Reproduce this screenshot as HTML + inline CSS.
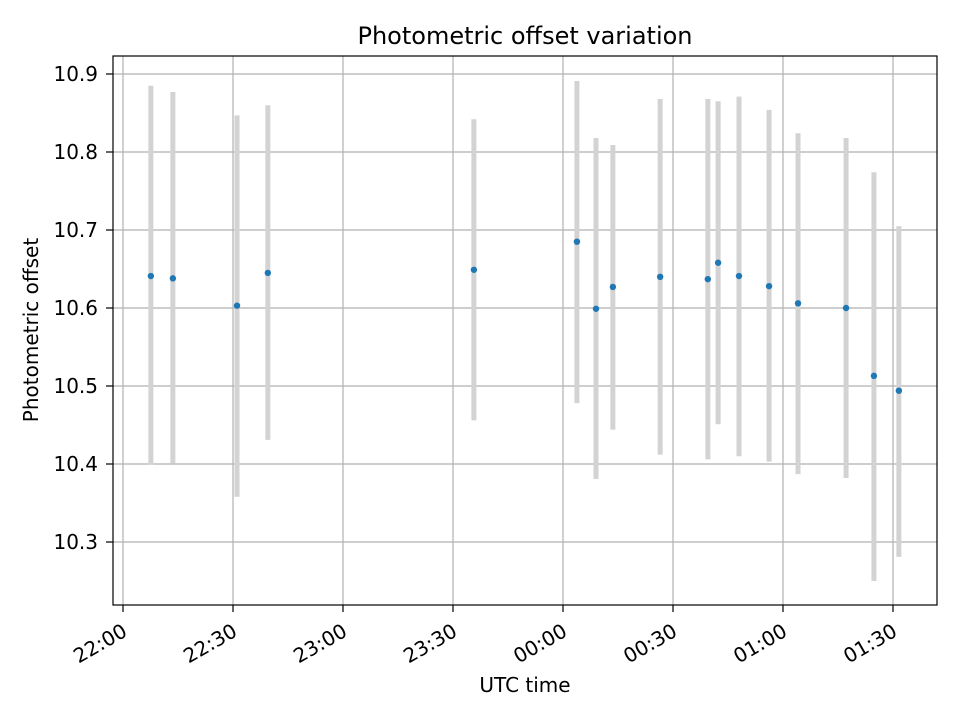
<!DOCTYPE html>
<html><head><meta charset="utf-8"><style>
body{margin:0;background:#fff;}
svg text{font-family:"DejaVu Sans","Liberation Sans",sans-serif;fill:#000;}
</style></head><body>
<svg id="chart" width="960" height="720" xmlns="http://www.w3.org/2000/svg">
<rect width="960" height="720" fill="#fff"/>
<g id="grid"></g>
<g id="bars"></g>
<g id="points"></g>
<rect x="113" y="56" width="824" height="549" fill="none" stroke="#000" stroke-width="1.2"/>
<g id="ticks"></g>
<text x="525" y="44" text-anchor="middle" font-size="24">Photometric offset variation</text>
<text x="525" y="692" text-anchor="middle" font-size="20">UTC time</text>
<text transform="translate(38,330) rotate(-90)" text-anchor="middle" font-size="20">Photometric offset</text>
</svg>
<script>
// minutes after 22:00 UTC
const times = [7.6,13.6,31.1,39.5,95.7,123.8,129,133.6,146.5,159.5,162.3,168,176.2,184.1,197.2,204.8,211.6];
const offsets = [10.641,10.638,10.603,10.645,10.649,10.685,10.599,10.627,10.640,10.637,10.658,10.641,10.628,10.606,10.600,10.513,10.494];
const errLow = [10.399,10.401,10.358,10.431,10.456,10.478,10.381,10.444,10.412,10.406,10.451,10.410,10.403,10.387,10.382,10.250,10.281];
const errHigh = [10.885,10.877,10.847,10.860,10.842,10.891,10.818,10.809,10.868,10.868,10.865,10.871,10.854,10.824,10.818,10.774,10.705];
const xTickMinutes = [0,30,60,90,120,150,180,210];
const xTickLabels = ["22:00","22:30","23:00","23:30","00:00","00:30","01:00","01:30"];
const yTicks = [10.3,10.4,10.5,10.6,10.7,10.8,10.9];

const NS="http://www.w3.org/2000/svg";
const L=113,R=937,T=56,B=605;
function xs(m){return 123+m*(110/30);}
function ys(v){return 542-(v-10.3)*780;}
function mk(tag,attrs,parent){const e=document.createElementNS(NS,tag);for(const k in attrs)e.setAttribute(k,attrs[k]);parent.appendChild(e);return e;}
const grid=document.getElementById('grid'),ticks=document.getElementById('ticks'),bars=document.getElementById('bars'),pts=document.getElementById('points');
xTickMinutes.forEach((m,i)=>{
  const x=xs(m);
  const g=mk('line',{x1:x,x2:x,y1:T,y2:B,stroke:'#b0b0b0','stroke-width':1.2},grid);
  
  
  const t=mk('line',{x1:x,x2:x,y1:B,y2:B+7,stroke:'#000','stroke-width':1.2},ticks);
  
  
  const tx=mk('text',{transform:`translate(${x-2},${B+17}) rotate(-30) translate(0,15)`,'text-anchor':'end','font-size':20},ticks);
  tx.textContent=xTickLabels[i];
  
  
});
yTicks.forEach(v=>{
  const y=ys(v);
  const g=mk('line',{x1:L,x2:R,y1:y,y2:y,stroke:'#b0b0b0','stroke-width':1.2},grid);
  
  
  const t=mk('line',{x1:L-7,x2:L,y1:y,y2:y,stroke:'#000','stroke-width':1.2},ticks);
  
  
  const tx=mk('text',{x:L-15,y:y+7,'text-anchor':'end','font-size':20},ticks);
  tx.textContent=v.toFixed(1);
  
  
});
times.forEach((m,i)=>{
  const x=xs(m);
  const b=mk('line',{x1:x,x2:x,y1:ys(errHigh[i]),y2:ys(errLow[i]),stroke:'#d3d3d3','stroke-width':5},bars);
  
  
  const p=mk('circle',{cx:x,cy:ys(offsets[i]),r:3.2,fill:'#1f77b4'},pts);
  
  
});
</script>
</body></html>
